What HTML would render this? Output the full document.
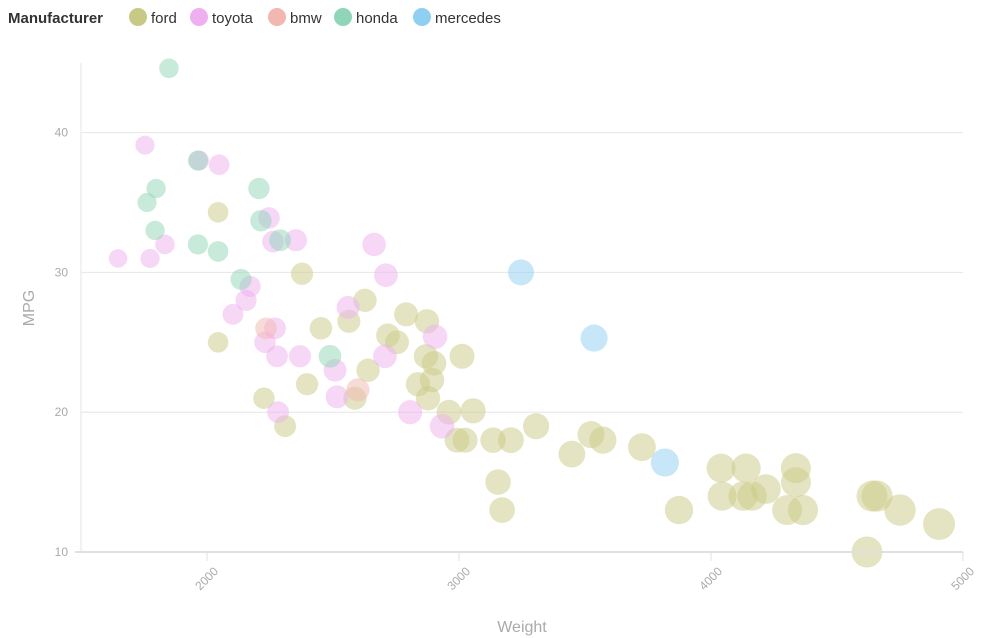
<!DOCTYPE html>
<html><head><meta charset="utf-8"><style>
body{margin:0;background:#fff;font-family:"Liberation Sans",sans-serif;}
svg{display:block}
</style></head><body>
<svg width="981" height="638">
<g id="legend"></g>
<g id="grid"></g>
<g id="pts"></g>
<g id="axes"></g>
<text x="522" y="632" text-anchor="middle" font-size="16" fill="#aaa">Weight</text>
<text transform="translate(34,308) rotate(-90)" text-anchor="middle" font-size="16" fill="#aaa">MPG</text>
</svg>
<script>
const manufacturers=["ford","toyota","bmw","honda","mercedes"];
const colors={ford:"#c9c986",toyota:"#eeb0ee",bmw:"#f2b7b0",honda:"#8fd6b8",mercedes:"#8fcff2"};
const xTicks=[2000,3000,4000,5000];
const yTicks=[10,20,30,40];
const hondaW=[1849,1964,1798,1762,1794,1964,2044,2206,2214,2290,2135,2488];
const hondaM=[44.6,38,36,35,33,32,31.5,36,33.7,32.3,29.5,24];
const toyotaW=[1754,1647,1774,1833,1968,2048,2246,2262,2353,2663,2710,2171,2155,2103,2270,2230,2278,2369,2560,2706,2905,2508,2516,2806,2282,2933];
const toyotaM=[39.1,31,31,32,38,37.7,33.9,32.2,32.3,32,29.8,29,28,27,26,25,24,24,27.5,24,25.4,23,21.1,20,20,19];
const bmwW=[2234,2599];
const bmwM=[26,21.6];
const mercW=[3246,3536,3817];
const mercM=[30,25.3,16.4];
const fordW=[2044,2044,2377,2226,2310,2397,2452,2563,2627,2639,2587,2754,2718,2790,2873,2869,2901,2837,2893,2877,2960,3056,3012,2992,3024,3135,3206,3306,3155,3171,3448,3524,3571,3726,3873,4040,4044,4139,4127,4163,4218,4302,4337,4337,4365,4639,4659,4750,4619,4905];
const fordM=[34.3,25,29.9,21,19,22,26,26.5,28,23,21,25,25.5,27,26.5,24,23.5,22,22.3,21,20,20.1,24,18,18,18,18,19,15,13,17,18.4,18,17.5,13,16,14,16,14,14,14.5,13,16,15,13,14,14,13,10,12];
const series=[["ford",fordW,fordM],["toyota",toyotaW,toyotaM],["bmw",bmwW,bmwM],["honda",hondaW,hondaM],["mercedes",mercW,mercM]];
const NS="http://www.w3.org/2000/svg";
const xs=w=>81+(w-1500)*0.252;
const ys=m=>552-(m-10)*13.98;
const rs=w=>0.228*Math.sqrt(w);
function mk(t,a,p){const e=document.createElementNS(NS,t);for(const k in a)e.setAttribute(k,a[k]);p.appendChild(e);return e;}
const grid=document.getElementById('grid'),axes=document.getElementById('axes'),pts=document.getElementById('pts'),leg=document.getElementById('legend');
yTicks.forEach(v=>{
 const l=mk('line',{x1:81,x2:963,y1:ys(v),y2:ys(v),stroke:'#e6e6e6','stroke-width':1},grid);
 
 
 const t=mk('text',{x:68,y:ys(v)+4,'text-anchor':'end','font-size':12,fill:'#aaa'},axes);t.textContent=v;
 
 
});
const ax=mk('line',{x1:81,x2:81,y1:63,y2:552,stroke:'#e6e6e6','stroke-width':1},axes);


const bx=mk('line',{x1:75,x2:963,y1:552,y2:552,stroke:'#e0e0e0','stroke-width':2},axes);


xTicks.forEach(v=>{
 const x=xs(v);
 const tk=mk('line',{x1:x,x2:x,y1:552,y2:561,stroke:'#e0e0e0'},axes);
 
 
 const t=mk('text',{transform:`translate(${x+12},${572}) rotate(-45)`,'text-anchor':'end','font-size':12,fill:'#aaa'},axes);t.textContent=v;
 
 
});
series.forEach(([n,W,M])=>{W.forEach((w,i)=>{
 const c=mk('circle',{cx:xs(w),cy:ys(M[i]),r:rs(w),fill:colors[n],'fill-opacity':0.5},pts);
 
 
});});
const t0=mk('text',{x:8,y:23,'font-size':15,'font-weight':'bold',fill:'#333'},leg);t0.textContent='Manufacturer';


const lx=[138,199,277,343,422];
manufacturers.forEach((m,i)=>{
 const c=mk('circle',{cx:lx[i],cy:17,r:9,fill:colors[m]},leg);
 
 
 const t=mk('text',{x:lx[i]+13,y:23,'font-size':15,fill:'#333'},leg);t.textContent=m;
 
 
});
</script>
</body></html>
